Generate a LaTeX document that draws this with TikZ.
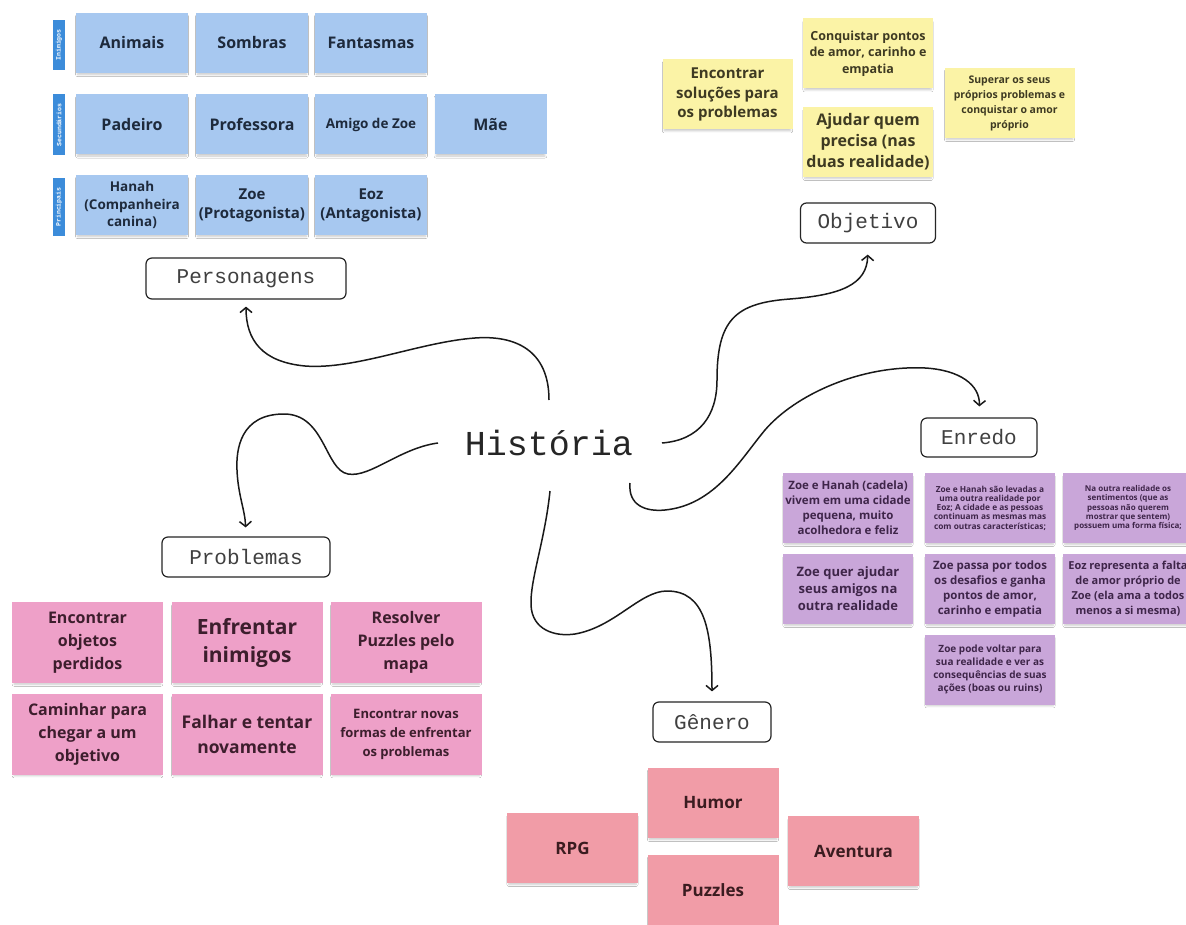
\documentclass[tikz,border=0pt]{standalone}
\usepackage{fontspec}
\setmainfont{Open Sans}
\newfontfamily\monofont{Liberation Mono}
\usetikzlibrary{arrows.meta,shadows.blur}
\definecolor{bluefill}{HTML}{A7C8F0}
\definecolor{bluetext}{HTML}{1E2A3C}
\definecolor{tagfill}{HTML}{3C8CDA}
\definecolor{yellowfill}{HTML}{FBF3A6}
\definecolor{yellowtext}{HTML}{3E3A22}
\definecolor{purplefill}{HTML}{C9A6D9}
\definecolor{purpletext}{HTML}{3E2549}
\definecolor{pinkfill}{HTML}{EEA0C8}
\definecolor{pinktext}{HTML}{3D1E2D}
\definecolor{salmonfill}{HTML}{F19CA7}
\definecolor{salmontext}{HTML}{3B1C20}
\begin{document}
\begin{tikzpicture}[x=1pt,y=-1pt,
  note/.style={rectangle,inner sep=0pt,align=center,
    blur shadow={shadow xshift=0pt,shadow yshift=-2.5pt,shadow opacity=22,shadow scale=0.97,shadow blur steps=6}},
  notefont/.style 2 args={font=\bfseries\fontsize{#1}{#2}\selectfont},
  bluenote/.style={note,fill=bluefill,text=bluetext,minimum width=112pt,minimum height=60pt},
  yellownote/.style={note,fill=yellowfill,text=yellowtext,minimum width=130pt,minimum height=70pt},
  purplenote/.style={note,fill=purplefill,text=purpletext,minimum width=130pt,minimum height=70pt},
  pinknote/.style={note,fill=pinkfill,text=pinktext,minimum width=151pt,minimum height=81pt},
  genrenote/.style={note,fill=salmonfill,text=salmontext,minimum width=131pt,minimum height=70pt},
  tag/.style={fill=tagfill,text=white,inner sep=0pt,minimum height=12pt,rotate=90,
    font=\monofont\bfseries\fontsize{6.5}{7}\selectfont},
  topic/.style={draw=black!85,line width=1.2pt,rounded corners=6pt,fill=white,inner sep=0pt,
    text=black!75,font=\monofont\fontsize{21}{24}\selectfont},
  link/.style={line width=1.5pt,draw=black!90,-{Straight Barb[length=5pt,width=12pt]}}]
\fill[white] (0,0) rectangle (1186,925);
\clip (0,0) rectangle (1186,925);
\useasboundingbox (0,0) rectangle (1186,925);
%Personagens
\node[tag,minimum width=50pt] (inimigos) at (59,45) {Inimigos};
\node[tag,minimum width=61pt] (secundarios) at (59,125) {Secundários};
\node[tag,minimum width=58pt] (principais) at (59,207) {Principais};
\node[bluenote,notefont={16}{19}] (animais) at (132,43) {Animais};
\node[bluenote,notefont={16}{19}] (sombras) at (252,43) {Sombras};
\node[bluenote,notefont={16}{19}] (fantasmas) at (371,43) {Fantasmas};
\node[bluenote,notefont={16}{19}] (padeiro) at (132,124.5) {Padeiro};
\node[bluenote,notefont={16}{19}] (professora) at (252,124.5) {Professora};
\node[bluenote,notefont={13.5}{16}] (amigo) at (371,124.5) {Amigo de Zoe};
\node[bluenote,notefont={16}{19}] (mae) at (490.5,124.5) {Mãe};
\node[bluenote,notefont={13.5}{17.5}] (hanah) at (132,205) {Hanah\\(Companheira\\canina)};
\node[bluenote,notefont={15}{19}] (zoe) at (252,205) {Zoe\\(Protagonista)};
\node[bluenote,notefont={15}{19}] (eoz) at (371,205) {Eoz\\(Antagonista)};
\node[topic,minimum width=200pt,minimum height=41pt] (pers) at (246,278.5) {Personagens};
%Objetivo
\node[yellownote,notefont={15}{19.5}] (solucoes) at (727.5,94.5) {Encontrar\\soluções para\\os problemas};
\node[yellownote,notefont={12.5}{16.3}] (pontos) at (868,53.5) {Conquistar pontos\\de amor, carinho e\\empatia};
\node[yellownote,notefont={16}{21}] (ajudar) at (868,142) {Ajudar quem\\precisa (nas\\duas realidade)};
\node[yellownote,notefont={10.5}{15}] (superar) at (1009.5,103) {Superar os seus\\próprios problemas e\\conquistar o amor\\próprio};
\node[topic,minimum width=135pt,minimum height=40pt] (obj) at (868,223) {Objetivo};
%Enredo
\node[topic,minimum width=116pt,minimum height=39pt] (enr) at (979,437.5) {Enredo};
\node[purplenote,notefont={11.5}{15}] (cidade) at (848,508) {Zoe e Hanah (cadela)\\vivem em uma cidade\\pequena, muito\\acolhedora e feliz};
\node[purplenote,notefont={8.3}{9.3}] (levadas) at (990,508) {Zoe e Hanah são levadas a\\uma outra realidade por\\Eoz; A cidade e as pessoas\\continuam as mesmas mas\\com outras características;};
\node[purplenote,notefont={8}{9.3}] (sentimentos) at (1128,508) {Na outra realidade os\\sentimentos (que as\\pessoas não querem\\mostrar que sentem)\\possuem uma forma física;};
\node[purplenote,notefont={13}{17}] (amigos) at (848,589) {Zoe quer ajudar\\seus amigos na\\outra realidade};
\node[purplenote,notefont={11.5}{15}] (desafios) at (990,589) {Zoe passa por todos\\os desafios e ganha\\pontos de amor,\\carinho e empatia};
\node[purplenote,notefont={11}{15}] (falta) at (1128,589) {Eoz representa a falta\\de amor próprio de\\Zoe (ela ama a todos\\menos a si mesma)};
\node[purplenote,notefont={10}{13}] (voltar) at (990,669.5) {Zoe pode voltar para\\sua realidade e ver as\\consequências de suas\\ações (boas ou ruins)};
%Problemas
\node[topic,minimum width=168pt,minimum height=40pt] (prob) at (246,557) {Problemas};
\node[pinknote,notefont={16}{23}] (objetos) at (87.5,642.5) {Encontrar\\objetos\\perdidos};
\node[pinknote,notefont={21}{28}] (inimigos2) at (247,642.5) {Enfrentar\\inimigos};
\node[pinknote,notefont={16}{23}] (puzzles2) at (406,642.5) {Resolver\\Puzzles pelo\\mapa};
\node[pinknote,notefont={16}{23}] (caminhar) at (87.5,734) {Caminhar para\\chegar a um\\objetivo};
\node[pinknote,notefont={17.5}{25}] (falhar) at (247,734) {Falhar e tentar\\novamente};
\node[pinknote,notefont={13}{19}] (formas) at (406,734) {Encontrar novas\\formas de enfrentar\\os problemas};
%Genero
\node[topic,minimum width=118pt,minimum height=40pt] (gen) at (712,722) {Gênero};
\node[genrenote,notefont={17}{20}] (humor) at (713,803) {Humor};
\node[genrenote,notefont={17}{20}] (rpg) at (572.5,848) {RPG};
\node[genrenote,notefont={17}{20}] (puzzles) at (713,890) {Puzzles};
\node[genrenote,notefont={17}{20}] (aventura) at (853.5,851) {Aventura};
%Historia
\node[text=black!85,font=\monofont\fontsize{35}{40}\selectfont] (hist) at (549,443) {História};
\coordinate (hp) at (549,400);
\coordinate (hb) at (438,443);
\coordinate (ho) at (662,443);
\coordinate (he) at (630,483);
\coordinate (hg) at (550,491);
%Connectors
\draw[link,shorten >=7pt] (hp) .. controls (549,350) and (515,335) .. (475,338)
  .. controls (420,342) and (355,370) .. (305,366)
  .. controls (262,362) and (246,340) .. (pers.south);
\draw[link,shorten >=9pt] (hb) .. controls (400,448) and (370,478) .. (348,474)
  .. controls (325,470) and (325,414) .. (284,414)
  .. controls (240,414) and (236,450) .. (237,470)
  .. controls (238,495) and (245,510) .. (prob.north);
\draw[link,shorten >=11pt] (ho) .. controls (700,440) and (717,415) .. (717,380)
  .. controls (717,320) and (735,303) .. (790,299)
  .. controls (840,295) and (867,285) .. (obj.south);
\draw[link,shorten >=11pt] (he) .. controls (628,505) and (645,512) .. (665,510)
  .. controls (715,505) and (740,460) .. (765,430)
  .. controls (795,395) and (860,365) .. (925,368)
  .. controls (960,370) and (980,385) .. (enr.north);
\draw[link,shorten >=10pt] (hg) .. controls (545,540) and (530,580) .. (531,605)
  .. controls (532,630) and (555,637) .. (575,634)
  .. controls (615,627) and (640,591) .. (667,591)
  .. controls (705,591) and (712,630) .. (gen.north);
\end{tikzpicture}
\end{document}
